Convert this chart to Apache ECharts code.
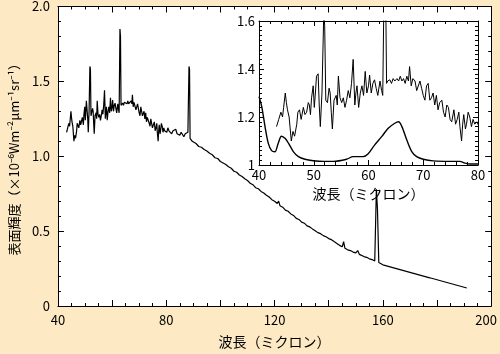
<!DOCTYPE html>
<html>
<head>
<meta charset="utf-8">
<title>表面輝度スペクトル</title>
<script src="https://cdn.jsdelivr.net/npm/echarts@6/dist/echarts.min.js"></script>
<style>
  html, body { margin: 0; padding: 0; background: #fde9c3; }
  #main { width: 500px; height: 354px; }
</style>
</head>
<body>
<div id="main"></div>
<script>
// 観測スペクトル (波長 μm, 表面輝度 ×10^-6)
var specWl = [
  43.2, 43.6, 44.0, 44.3, 44.5, 44.8, 45.0, 45.2, 45.5, 45.9, 46.2, 46.5, 46.9, 47.1, 47.4, 47.7,
  48.1, 48.4, 48.7, 49.0, 49.2, 49.4, 49.6, 49.9, 50.1, 50.3, 50.5, 50.8, 51.0, 51.2, 51.5, 51.8,
  51.9, 52.0, 52.2, 52.5, 52.8, 53.0, 53.2, 53.4, 53.7, 54.1, 54.3, 54.5, 54.8, 55.1, 55.4, 55.7,
  56.0, 56.3, 56.6, 56.9, 57.2, 57.5, 57.7, 57.9, 58.2, 58.5, 58.8, 59.1, 59.4, 59.7, 60.0, 60.2,
  60.5, 60.8, 61.1, 61.4, 61.7, 62.1, 62.4, 62.6, 62.9, 63.1, 63.3, 63.5, 63.9, 64.2, 64.5, 64.8,
  65.2, 65.5, 65.8, 66.1, 66.4, 66.7, 67.0, 67.3, 67.5, 67.8, 68.1, 68.5, 68.8, 69.1, 69.4, 69.7,
  70.0, 70.3, 70.6, 70.9, 71.2, 71.5, 71.8, 72.1, 72.4, 72.7, 73.0, 73.4, 73.7, 74.0, 74.3, 74.6,
  74.9, 75.2, 75.6, 75.9, 76.2, 76.5, 76.7, 77.0, 77.2, 77.4, 77.7, 77.9, 78.2, 78.5, 78.8, 79.1,
  79.4, 79.8, 80.2, 80.6, 81.0, 81.5, 82.0, 82.5, 83.0, 83.5, 84.0, 84.5, 85.0, 85.5, 86.0, 86.5,
  87.0, 87.5, 88.0, 88.4, 88.6, 88.8, 89.2, 89.6, 90.0, 91.0, 92.0, 93.0, 94.0, 95.0, 96.0, 97.0,
  98.0, 99.0, 100, 101, 102, 103, 104, 105, 106, 107, 108, 109, 110, 111, 112, 113,
  114, 115, 116, 117, 118, 119, 120, 121, 121.5, 122, 123, 124, 125, 126, 127, 128,
  129, 130, 131, 132, 133, 134, 135, 136, 137, 138, 139, 140, 141, 142, 143, 144,
  145, 145.5, 146, 147, 148, 149, 150, 150.7, 151.3, 152, 153, 154, 155, 156, 157, 157.6,
  158, 158.5, 159, 160, 161, 162, 163, 164, 165, 166, 167, 168, 169, 170, 171, 172,
  173, 174, 175, 176, 177, 177.5, 178, 179, 180, 181, 182, 183, 184, 185, 186, 187,
  188, 189, 190, 191
];
var specVal = [
  1.16, 1.19, 1.22, 1.20, 1.24, 1.30, 1.26, 1.23, 1.20, 1.10, 1.14, 1.12, 1.17, 1.22, 1.23, 1.19,
  1.24, 1.21, 1.22, 1.26, 1.25, 1.21, 1.28, 1.33, 1.24, 1.30, 1.37, 1.38, 1.25, 1.16, 1.30, 1.60,
  1.61, 1.58, 1.27, 1.26, 1.32, 1.30, 1.22, 1.15, 1.27, 1.29, 1.25, 1.37, 1.28, 1.26, 1.28, 1.24,
  1.27, 1.31, 1.28, 1.34, 1.44, 1.25, 1.30, 1.33, 1.24, 1.30, 1.33, 1.29, 1.39, 1.30, 1.33, 1.375,
  1.30, 1.34, 1.355, 1.32, 1.29, 1.35, 1.31, 1.29, 1.85, 1.80, 1.34, 1.35, 1.355, 1.34, 1.36, 1.35,
  1.36, 1.35, 1.37, 1.35, 1.36, 1.34, 1.37, 1.35, 1.41, 1.33, 1.36, 1.35, 1.31, 1.31, 1.35, 1.32,
  1.29, 1.27, 1.33, 1.34, 1.27, 1.28, 1.30, 1.25, 1.29, 1.23, 1.26, 1.27, 1.22, 1.20, 1.25, 1.24,
  1.19, 1.18, 1.23, 1.17, 1.19, 1.22, 1.16, 1.10, 1.17, 1.21, 1.15, 1.17, 1.22, 1.20, 1.16, 1.19,
  1.17, 1.18, 1.16, 1.19, 1.17, 1.18, 1.15, 1.17, 1.16, 1.18, 1.15, 1.16, 1.14, 1.16, 1.15, 1.13,
  1.15, 1.14, 1.16, 1.60, 1.58, 1.12, 1.13, 1.10, 1.09, 1.085, 1.065, 1.06, 1.045, 1.035, 1.02, 1.01,
  0.99, 0.985, 0.965, 0.955, 0.945, 0.93, 0.92, 0.90, 0.893, 0.875, 0.865, 0.85, 0.838, 0.82, 0.81, 0.79,
  0.783, 0.765, 0.755, 0.74, 0.728, 0.71, 0.70, 0.685, 0.70, 0.67, 0.66, 0.64, 0.633, 0.615, 0.605, 0.585,
  0.578, 0.56, 0.553, 0.535, 0.528, 0.515, 0.503, 0.49, 0.483, 0.47, 0.462, 0.45, 0.443, 0.43, 0.418, 0.405,
  0.395, 0.43, 0.385, 0.375, 0.37, 0.36, 0.355, 0.37, 0.345, 0.34, 0.33, 0.325, 0.315, 0.31, 0.30, 0.78,
  0.65, 0.29, 0.28, 0.275, 0.27, 0.265, 0.26, 0.255, 0.25, 0.245, 0.24, 0.235, 0.23, 0.225, 0.22, 0.215,
  0.21, 0.205, 0.20, 0.195, 0.19, 0.20, 0.185, 0.18, 0.175, 0.17, 0.165, 0.16, 0.155, 0.15, 0.145, 0.14,
  0.135, 0.13, 0.125, 0.12
];

// 挿入図の応答曲線
var respWl = [
  40, 40.5, 41.1, 41.7, 42.3, 42.9, 43.5, 44.1, 44.8, 45.4, 46.3, 47.2, 48.4, 49.9, 51.8, 53.6,
  56, 57.2, 59, 59.9, 61.1, 62.4, 63.6, 64.8, 65.5, 66.1, 67, 67.9, 68.8, 70, 71.8, 74.9,
  76.7, 77.6, 78.5, 80
];
var respVal = [
  1.285, 1.243, 1.16, 1.09, 1.06, 1.055, 1.09, 1.12, 1.11, 1.09, 1.055, 1.035, 1.024, 1.018, 1.015, 1.015,
  1.024, 1.035, 1.035, 1.046, 1.083, 1.118, 1.153, 1.174, 1.18, 1.16, 1.104, 1.056, 1.035, 1.024, 1.017, 1.015,
  1.015, 1.008, 1.004, 1.004
];

var mainXTicks = [40, 80, 120, 160, 200];

var font = '"Noto Sans CJK JP", "Noto Sans", sans-serif';

function pairs(xs, ys) {
    return xs.map(function (x, i) { return [x, ys[i]]; });
}

function axisBase(extra) {
    var a = {
        type: 'value',
        axisLine: { show: true, onZero: false, lineStyle: { color: '#000', width: 1 } },
        axisTick: { show: true, inside: true, length: 6, lineStyle: { color: '#000' } },
        minorTick: { show: true, length: 3, lineStyle: { color: '#000' } },
        splitLine: { show: false },
        axisLabel: { color: '#000', fontSize: 13, fontFamily: font }
    };
    for (var k in extra) {
        if (typeof extra[k] === 'object' && a[k] && !Array.isArray(extra[k])) {
            a[k] = Object.assign({}, a[k], extra[k]);
        } else {
            a[k] = extra[k];
        }
    }
    return a;
}

var myChart = echarts.init(document.getElementById('main'));

var option = {
    backgroundColor: '#fde9c3',
    animation: false,
    grid: [
        { left: 57, top: 6, width: 436, height: 303, show: true, backgroundColor: '#fff', borderWidth: 0 },
        { left: 259, top: 21, width: 219, height: 144, show: true, backgroundColor: '#fff', borderWidth: 0 }
    ],
    xAxis: [
        axisBase({
            gridIndex: 0, position: 'bottom', min: 40, max: 200, interval: 20,
            minorTick: { splitNumber: 4 },
            axisLabel: {
                margin: 8,
                formatter: function (v) {
                    if (mainXTicks.indexOf(v) < 0) return '';
                    return v === 200 ? '{r|200}' : String(v);
                },
                rich: { r: { color: '#000', fontSize: 13, fontFamily: font, padding: [0, 10, 0, 0] } }
            },
            name: '波長（ミクロン）', nameLocation: 'middle', nameGap: 29,
            nameTextStyle: { color: '#000', fontSize: 14, fontFamily: font }
        }),
        axisBase({
            gridIndex: 0, position: 'top', min: 40, max: 200, interval: 20,
            minorTick: { splitNumber: 4 }, axisLabel: { show: false }
        }),
        axisBase({
            gridIndex: 1, position: 'bottom', min: 40, max: 80, interval: 10,
            axisTick: { length: 5 }, minorTick: { splitNumber: 5, length: 3 },
            axisLabel: { margin: 4 },
            name: '波長（ミクロン）', nameLocation: 'middle', nameGap: 22,
            nameTextStyle: { color: '#000', fontSize: 14, fontFamily: font }
        }),
        axisBase({
            gridIndex: 1, position: 'top', min: 40, max: 80, interval: 10,
            axisTick: { length: 5 }, minorTick: { splitNumber: 5, length: 3 },
            axisLabel: { show: false }
        })
    ],
    yAxis: [
        axisBase({
            gridIndex: 0, position: 'left', min: 0, max: 2, interval: 0.5,
            minorTick: { splitNumber: 5 },
            axisLabel: {
                margin: 8,
                formatter: function (v) { return v === 0 ? '0' : v.toFixed(1); }
            },
            name: '表面輝度（×10⁻⁶Wm⁻²μm⁻¹sr⁻¹）', nameLocation: 'middle', nameGap: 36, nameRotate: 90,
            nameTextStyle: { color: '#000', fontSize: 13, fontFamily: font }
        }),
        axisBase({
            gridIndex: 0, position: 'right', min: 0, max: 2, interval: 0.5,
            minorTick: { splitNumber: 5 }, axisLabel: { show: false }
        }),
        axisBase({
            gridIndex: 1, position: 'left', min: 1, max: 1.6, interval: 0.2,
            axisTick: { length: 5 }, minorTick: { splitNumber: 10, length: 3 },
            axisLabel: { margin: 4 }
        }),
        axisBase({
            gridIndex: 1, position: 'right', min: 1, max: 1.6, interval: 0.2,
            axisTick: { length: 5 }, minorTick: { splitNumber: 10, length: 3 },
            axisLabel: { show: false }
        })
    ],
    series: [
        {
            type: 'line', xAxisIndex: 0, yAxisIndex: 0,
            data: pairs(specWl, specVal),
            showSymbol: false, lineStyle: { color: '#000', width: 1.2 }
        },
        {
            type: 'line', xAxisIndex: 2, yAxisIndex: 2,
            data: pairs(specWl, specVal),
            showSymbol: false, clip: true, lineStyle: { color: '#000', width: 1 }
        },
        {
            type: 'line', xAxisIndex: 2, yAxisIndex: 2,
            data: pairs(respWl, respVal),
            showSymbol: false, smooth: 0.3, lineStyle: { color: '#000', width: 1.4 }
        }
    ]
};

myChart.setOption(option);
</script>
</body>
</html>
